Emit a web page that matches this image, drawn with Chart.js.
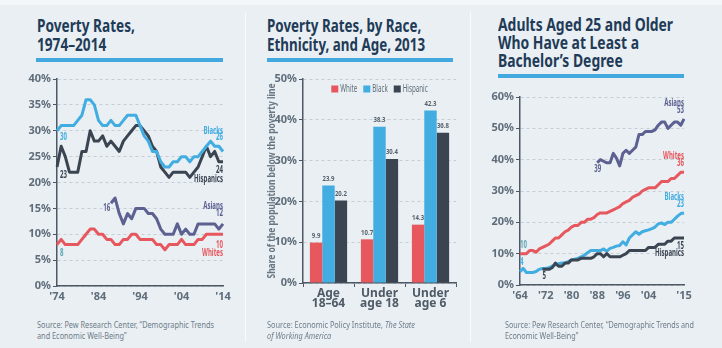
<!DOCTYPE html>
<html>
<head>
<meta charset="utf-8">
<script src="https://cdn.jsdelivr.net/npm/chart.js@4.4.1/dist/chart.umd.min.js"></script>
<style>
  body { margin: 0; width: 722px; height: 348px; background: #e9eff3; position: relative; overflow: hidden;
         font-family: "Noto Sans", sans-serif; font-stretch: condensed; }
  .topband { position: absolute; left: 0; top: 0; width: 722px; height: 5px; background: #f3f6f8; }
  .sep { position: absolute; top: 12px; width: 1px; height: 330px; background: #f8fafc; }
  .title { position: absolute; font-weight: bold; font-size: 17px; line-height: 19px; color: #1f3b57; white-space: nowrap; transform-origin: left top; }
  .rule { position: absolute; height: 4px; background: #41a9dd; }
  .src { position: absolute; font-size: 9px; line-height: 11px; color: #6f7d89; white-space: nowrap; transform-origin: left top; }
  canvas { position: absolute; }
</style>
</head>
<body>
<div class="topband"></div>
<div class="sep" style="left:245px"></div>
<div class="sep" style="left:470px"></div>

<div class="title" data-w="98" style="left:37px;top:16px">Poverty Rates,<br>1974–2014</div>
<div class="rule" style="left:36px;top:58px;width:187px"></div>
<div class="title" data-w="158" style="left:267px;top:16px">Poverty Rates, by Race,<br>Ethnicity, and Age, 2013</div>
<div class="rule" style="left:267px;top:58px;width:186px"></div>
<div class="title" data-w="175" style="left:498px;top:16px;line-height:18px">Adults Aged 25 and Older<br>Who Have at Least a<br>Bachelor’s Degree</div>
<div class="rule" style="left:498px;top:74px;width:186px"></div>

<canvas id="c1" width="240" height="240" style="left:0;top:70px"></canvas>
<canvas id="c2" width="230" height="250" style="left:240px;top:70px"></canvas>
<canvas id="c3" width="242" height="230" style="left:480px;top:80px"></canvas>

<div class="src" data-w="177" style="left:37px;top:319px">Source: Pew Research Center, “Demographic Trends<br>and Economic Well-Being”</div>
<div class="src" data-w="148" style="left:267px;top:319px">Source: Economic Policy Institute, <i>The State<br>of Working America</i></div>
<div class="src" data-w="189" style="left:505px;top:319px">Source: Pew Research Center, “Demographic Trends and<br>Economic Well-Being”</div>

<script>
// poverty rates 1974-2014 (%)
const povYears = [];
for (let y = 1974; y <= 2014; y++) povYears.push(y);
const povBlacks = [30,31,31,31,31,32,33,36,36,35, 32,31,31,32,31,31,32,33,33,33, 31,29,28,26,26,24,23,23,24,24, 25,25,24,25,25,26,27,28,27,27, 26];
const povHispanics = [23,27,25,22,22,22,26,26,30,28, 28,29,27,28,27,26,28,29,30,31, 31,30,29,27,26,23,22,21,22,22, 22,22,21,22,23,25,27,25,26,24, 24];
const povAsians = [null,null,null,null,null,null,null,null,null,null, null,null,null,16,17,14,12,14,13,15, 15,15,14,14,13,11,10,10,10,12, 10,11,10,10,12,12,12,12,12,11, 12];
const povWhites = [8,9,8,8,8,8,9,10,11,11, 10,10,9,9,8,8,9,9,10,10, 9,9,9,9,8,8,7,8,8,8, 9,8,8,8,9,9,10,10,10,10, 10];
const povTicks = [1974, 1984, 1994, 2004, 2014];

// poverty by race and age, 2013 (%)
const ageGroups = [["Age", "18–64"], ["Under", "age 18"], ["Under", "age 6"]];
const ageWhite = [9.9, 10.7, 14.3];
const ageBlack = [23.9, 38.3, 42.3];
const ageHispanic = [20.2, 30.4, 36.8];

// bachelor's degree, adults 25+, 1964-2015 (%)
const eduYears = [];
for (let y = 1964; y <= 2015; y++) eduYears.push(y);
const eduWhites = [10,10,10,11,11,10.5,11.5,12,12.5,13, 14,15,15,16,17,17.5,18.5,19,19,20, 20,21,21,21.5,22.5,23,23,23,23.5,24, 24.5,25,26,26.5,27,28,28.5,29,30,30.5, 31,31,31,32,33,33,33,34,34,35, 36,36];
const eduBlacks = [4.2,5.3,4,4,4,4.3,5,5.3,5.3,5.5, 6,6.4,6.8,7,7,7.5,8,8.2,8.5,9, 9.5,10.3,11,11,11,11,11.5,10.8,11.7,12, 12.4,12.6,13.8,12.8,15,16,17,16.2,17,17.3, 17.6,18,18.5,19.5,19.8,19.3,20,20,21,22, 22.8,23];
const eduHispanics = [null,null,null,null,null,null,null, 5,5,5,5.5,7,6,6,7,7,8, 8,8,8.5,8.5,8.5,8.5,9,10,10,9, 10,9,9,9,9,9.5,10,11,11,11, 11,11,11,12,12,12,13,13,13,14, 14,15,15,15,15];
const eduAsians = [null,null,null,null,null,null,null,null,null,null, null,null,null,null,null,null,null,null,null,null, null,null,null,null, 39,40,39.5,39,39,42,40.5,38,42,43, 42,43,44,48,48,49,49,49,49.5,51, 52,52,50,51,52,52,51,53];
const eduTicks = [1964, 1972, 1980, 1988, 1996, 2004, 2015];

const BLUE = "#42ade1", DARK = "#3b4551", PURPLE = "#5d6192", RED = "#e7585e", TEAL = "#5aa6b4";
const FONT = '"Noto Sans", sans-serif';
const BOLD = "bold condensed";
const TICK = "#5f6d7a", AXIS = "#4d5864", GRID = "#c6ced5";

// squeeze html text blocks to the width they have in the original
document.querySelectorAll("[data-w]").forEach((el) => {
  const w = el.getBoundingClientRect().width;
  el.style.transform = "scaleX(" + (el.dataset.w / w).toFixed(3) + ")";
});

// draw narrow text on a canvas: k is the horizontal squeeze
function narrowText(ctx, text, x, y, align, k) {
  const w = ctx.measureText(text).width * k;
  const x0 = align === "right" ? x - w : align === "center" ? x - w / 2 : x;
  ctx.save();
  ctx.translate(x0, y);
  ctx.scale(k, 1);
  ctx.textAlign = "left";
  ctx.fillText(text, 0, 0);
  ctx.restore();
}

Chart.defaults.font.family = FONT;
Chart.defaults.animation = false;

const textLabels = {
  id: "textLabels",
  afterDatasetsDraw(chart, args, opts) {
    const ctx = chart.ctx, xs = chart.scales.x, ys = chart.scales.y;
    ctx.save();
    ctx.font = "bold 10px " + FONT;
    ctx.textBaseline = "middle";
    const k = 29 / ctx.measureText("Hispanics").width;
    (opts.items || []).forEach((it) => {
      ctx.fillStyle = it.color;
      narrowText(ctx, it.text, xs.getPixelForValue(it.x) + (it.dx || 0), ys.getPixelForValue(it.y), it.align || "left", k);
    });
    ctx.restore();
  },
};

function lineSet(label, data, color) {
  return { label, data, borderColor: color, borderWidth: 3, pointRadius: 0, tension: 0,
           borderJoinStyle: "round", spanGaps: false };
}

function yAxis(max, step, width) {
  return {
    min: 0, max,
    afterFit: (s) => { s.width = width; },
    ticks: { stepSize: step, color: TICK, padding: 2, font: { size: 11, weight: BOLD }, callback: (v) => v + "%" },
    grid: { color: GRID, tickColor: AXIS, tickLength: 4, drawTicks: true },
    border: { display: true, color: AXIS, width: 1.5, dash: [3, 3] },
  };
}

function yearAxis(years, ticks, height) {
  return {
    type: "category",
    offset: false,
    afterFit: (s) => { s.height = height; },
    ticks: {
      autoSkip: false, maxRotation: 0, color: TICK, padding: 4, font: { size: 11, weight: BOLD },
      callback: (v, i) => (ticks.includes(years[i]) ? "'" + String(years[i]).slice(2) : null),
    },
    grid: { display: false, drawTicks: false },
    border: { display: true, color: AXIS, width: 1.5 },
  };
}

new Chart(document.getElementById("c1"), {
  type: "line",
  data: {
    labels: povYears,
    datasets: [
      lineSet("Whites", povWhites, RED),
      lineSet("Asians", povAsians, PURPLE),
      lineSet("Blacks", povBlacks, BLUE),
      lineSet("Hispanics", povHispanics, DARK),
    ],
  },
  options: {
    responsive: false,
    layout: { padding: { top: 9, right: 17, left: 0, bottom: 0 } },
    scales: { x: yearAxis(povYears, povTicks, 24), y: yAxis(40, 5, 57) },
    plugins: {
      legend: { display: false }, tooltip: { enabled: false },
      textLabels: {
        items: [
          { text: "Blacks", x: 40, y: 30.0, align: "right", color: BLUE },
          { text: "26", x: 40, y: 28.7, align: "right", color: BLUE },
          { text: "30", x: 0, y: 28.7, dx: 3, color: BLUE },
          { text: "23", x: 0, y: 21.5, dx: 3, color: DARK },
          { text: "24", x: 40, y: 22.3, align: "right", color: DARK },
          { text: "Hispanics", x: 40, y: 20.7, align: "right", color: DARK },
          { text: "Asians", x: 40, y: 15.5, align: "right", color: PURPLE },
          { text: "12", x: 40, y: 14.1, align: "right", color: PURPLE },
          { text: "16", x: 12.8, y: 15.1, align: "right", color: PURPLE },
          { text: "8", x: 0, y: 6.3, dx: 3, color: TEAL },
          { text: "10", x: 40, y: 7.9, align: "right", color: RED },
          { text: "Whites", x: 40, y: 6.3, align: "right", color: RED },
        ],
      },
    },
  },
  plugins: [textLabels],
});

const barExtras = {
  id: "barExtras",
  afterDatasetsDraw(chart) {
    const ctx = chart.ctx, area = chart.chartArea;
    ctx.save();
    // value labels
    ctx.font = "bold 7.5px " + FONT;
    ctx.fillStyle = "#56616d";
    ctx.textBaseline = "bottom";
    chart.data.datasets.forEach((ds, di) => {
      chart.getDatasetMeta(di).data.forEach((bar, i) => {
        narrowText(ctx, ds.data[i].toFixed(1), bar.x, bar.y - 3, "center", 0.8);
      });
    });
    // legend inside plot
    ctx.font = "10px " + FONT;
    ctx.textBaseline = "middle";
    const k = 17 / ctx.measureText("White").width;
    const items = chart.data.datasets.map((d) => ({ label: d.label, color: d.backgroundColor, w: ctx.measureText(d.label).width * k }));
    const total = items.reduce((s, it) => s + 9 + it.w, 0) + 6 * (items.length - 1);
    let x = (area.left + area.right) / 2 - total / 2;
    const y = area.top + 10;
    items.forEach((it) => {
      ctx.fillStyle = it.color;
      ctx.fillRect(x, y - 3.5, 7, 7);
      ctx.fillStyle = "#5f6d7a";
      narrowText(ctx, it.label, x + 9, y, "left", k);
      x += 9 + it.w + 6;
    });
    // y title
    ctx.font = "bold 10px " + FONT;
    ctx.fillStyle = "#687683";
    const title = "Share of the population below the poverty line";
    const kt = 195 / ctx.measureText(title).width;
    ctx.translate(area.left - 31, (area.top + area.bottom) / 2);
    ctx.rotate(-Math.PI / 2);
    narrowText(ctx, title, 0, 0, "center", kt);
    ctx.restore();
  },
};

new Chart(document.getElementById("c2"), {
  type: "bar",
  data: {
    labels: ageGroups,
    datasets: [
      { label: "White", data: ageWhite, backgroundColor: RED },
      { label: "Black", data: ageBlack, backgroundColor: BLUE },
      { label: "Hispanic", data: ageHispanic, backgroundColor: DARK },
    ],
  },
  options: {
    responsive: false,
    categoryPercentage: 0.73,
    barPercentage: 1.0,
    layout: { padding: { top: 9, right: 14, left: 0, bottom: 0 } },
    scales: {
      x: {
        afterFit: (s) => { s.height = 37; },
        ticks: { color: "#4f5b67", padding: 2, font: { size: 12, weight: BOLD, lineHeight: 0.8 } },
        grid: { drawOnChartArea: false, tickColor: AXIS, tickLength: 4, offset: true },
        border: { display: true, color: AXIS, width: 1.5 },
      },
      y: yAxis(50, 10, 63),
    },
    plugins: { legend: { display: false }, tooltip: { enabled: false } },
  },
  plugins: [barExtras],
});

new Chart(document.getElementById("c3"), {
  type: "line",
  data: {
    labels: eduYears,
    datasets: [
      lineSet("Hispanics", eduHispanics, DARK),
      lineSet("Blacks", eduBlacks, BLUE),
      lineSet("Whites", eduWhites, RED),
      lineSet("Asians", eduAsians, PURPLE),
    ],
  },
  options: {
    responsive: false,
    layout: { padding: { top: 17, right: 38, left: 0, bottom: 0 } },
    scales: { x: yearAxis(eduYears, eduTicks, 25), y: yAxis(60, 10, 40) },
    plugins: {
      legend: { display: false }, tooltip: { enabled: false },
      textLabels: {
        items: [
          { text: "Asians", x: 51, y: 58.1, align: "right", color: PURPLE },
          { text: "53", x: 51, y: 55.9, align: "right", color: PURPLE },
          { text: "Whites", x: 51, y: 41.2, align: "right", color: RED },
          { text: "36", x: 51, y: 38.9, align: "right", color: RED },
          { text: "Blacks", x: 51, y: 28.1, align: "right", color: BLUE },
          { text: "23", x: 51, y: 25.9, align: "right", color: BLUE },
          { text: "15", x: 51, y: 12.4, align: "right", color: DARK },
          { text: "Hispanics", x: 51, y: 10.2, align: "right", color: DARK },
          { text: "39", x: 24.2, y: 37, align: "center", color: PURPLE },
          { text: "10", x: 0, y: 12.8, color: TEAL },
          { text: "4", x: 0, y: 7.3, color: BLUE },
          { text: "5", x: 7.5, y: 2.9, align: "center", color: DARK },
        ],
      },
    },
  },
  plugins: [textLabels],
});
</script>
</body>
</html>
